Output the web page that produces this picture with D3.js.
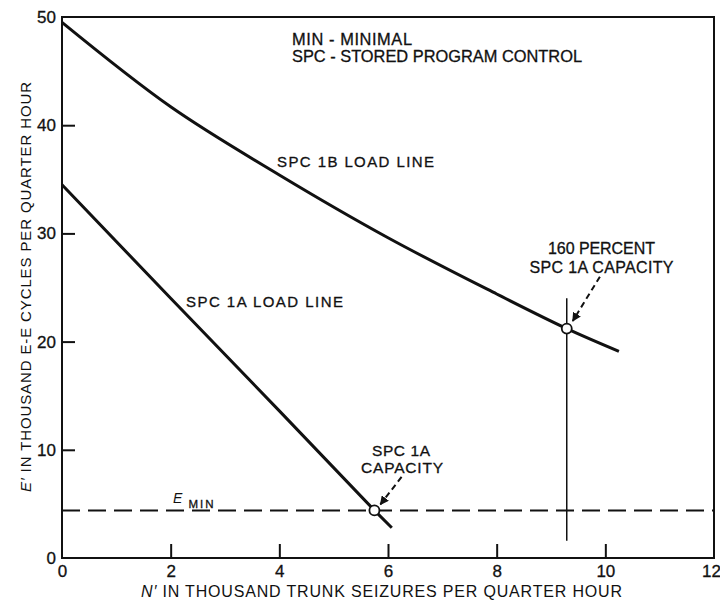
<!DOCTYPE html>
<html>
<head>
<meta charset="utf-8">
<script src="https://cdn.jsdelivr.net/npm/d3@7"></script>
<style>
  body { margin: 0; background: #fff; }
  svg { display: block; }
  text { font-family: "Liberation Sans", Arial, Helvetica, sans-serif; fill: #111; }
  .heavy { stroke: #111; stroke-width: 0.3; }
</style>
</head>
<body>
<svg id="chart" width="720" height="601"></svg>
<script>
// ---- data ----
const xTicks = [0, 2, 4, 6, 8, 10, 12];
const yTicks = [0, 10, 20, 30, 40, 50];

// SPC 1B load line: [N' thousand seizures, E' thousand cycles]
const spc1bN = [0, 2, 4, 6, 8, 9.29, 10.25];
const spc1bE = [49.5, 41.7, 35.4, 29.6, 24.4, 21.2, 19.1];

// SPC 1A load line
const spc1aN = [0, 2, 4, 5.75, 6.07];
const spc1aE = [34.5, 24.0, 13.6, 4.4, 2.8];

// E_MIN level
const eMin = 4.4;

// capacity points (open circles)
const capN = [5.75, 9.29];
const capE = [4.4, 21.2];

// vertical marker at 160 percent capacity
const vLineN = 9.29;
const vLineE = [1.6, 24.0];

// annotation arrows: [fromN, fromE, toN, toE]
const arrows = [
  [9.90, 26.0, 9.40, 21.9],
  [6.25, 7.5, 5.86, 4.95]
];

// ---- layout ----
const svg = d3.select("#chart");
const x = d3.scaleLinear().domain([0, 12]).range([62, 714]);
const y = d3.scaleLinear().domain([0, 50]).range([558, 17]);

// defs: arrowhead
svg.append("defs").append("marker")
  .attr("id", "ah").attr("viewBox", "0 0 10 10")
  .attr("refX", 9).attr("refY", 5)
  .attr("markerWidth", 9).attr("markerHeight", 9)
  .attr("markerUnits", "userSpaceOnUse")
  .attr("orient", "auto")
  .append("path").attr("d", "M0,0 L10,5 L0,10 Z").attr("fill", "#111");

// frame
svg.append("rect")
  .attr("x", x(0)).attr("y", y(50))
  .attr("width", x(12) - x(0)).attr("height", y(0) - y(50))
  .attr("fill", "none").attr("stroke", "#111").attr("stroke-width", 2);

// axes with inward ticks
const xAxis = d3.axisBottom(x).tickValues(xTicks).tickSize(-14).tickPadding(7)
  .tickFormat(d3.format("d"));
const gx = svg.append("g").attr("transform", `translate(0,${y(0)})`).call(xAxis);
gx.select(".domain").remove();
gx.selectAll(".tick line").attr("stroke", "#111").attr("stroke-width", 2)
  .filter(d => d === 0 || d === 12).remove();
gx.selectAll(".tick text").attr("font-size", 17).attr("fill", "#111")
  .attr("class", "heavy")
  .style("font-family", "'Liberation Sans', Arial, sans-serif");
gx.selectAll(".tick text").filter(d => d === 12).attr("dx", -3);

const yAxis = d3.axisLeft(y).tickValues(yTicks).tickSize(-13).tickPadding(6)
  .tickFormat(d3.format("d"));
const gy = svg.append("g").attr("transform", `translate(${x(0)},0)`).call(yAxis);
gy.select(".domain").remove();
gy.selectAll(".tick line").attr("stroke", "#111").attr("stroke-width", 2)
  .filter(d => d === 0 || d === 50).remove();
gy.selectAll(".tick text").attr("font-size", 17).attr("fill", "#111")
  .attr("class", "heavy")
  .style("font-family", "'Liberation Sans', Arial, sans-serif");

// E_MIN dashed line
svg.append("line")
  .attr("x1", x(0)).attr("x2", x(12))
  .attr("y1", y(eMin)).attr("y2", y(eMin))
  .attr("stroke", "#111").attr("stroke-width", 2)
  .attr("stroke-dasharray", "18,8");

// vertical marker
svg.append("line")
  .attr("x1", x(vLineN)).attr("x2", x(vLineN))
  .attr("y1", y(vLineE[0])).attr("y2", y(vLineE[1]))
  .attr("stroke", "#111").attr("stroke-width", 1.5);

// load lines
const line1b = d3.line().x(d => x(d[0])).y(d => y(d[1])).curve(d3.curveCatmullRom.alpha(0.5));
const line1a = d3.line().x(d => x(d[0])).y(d => y(d[1]));
svg.append("path").datum(d3.zip(spc1bN, spc1bE)).attr("d", line1b)
  .attr("fill", "none").attr("stroke", "#111").attr("stroke-width", 3);
svg.append("path").datum(d3.zip(spc1aN, spc1aE)).attr("d", line1a)
  .attr("fill", "none").attr("stroke", "#111").attr("stroke-width", 3)
  .attr("stroke-linejoin", "round");

// arrows
svg.selectAll(".arr").data(arrows).enter().append("line")
  .attr("x1", d => x(d[0])).attr("y1", d => y(d[1]))
  .attr("x2", d => x(d[2])).attr("y2", d => y(d[3]))
  .attr("stroke", "#111").attr("stroke-width", 2)
  .attr("stroke-dasharray", "6,4")
  .attr("marker-end", "url(#ah)");

// circles
svg.selectAll(".cap").data(d3.zip(capN, capE)).enter().append("circle")
  .attr("cx", d => x(d[0])).attr("cy", d => y(d[1])).attr("r", 5)
  .attr("fill", "#fff").attr("stroke", "#111").attr("stroke-width", 1.8);

// text helper
function label(txt, px, py, size, len, anchor) {
  const t = svg.append("text").attr("x", px).attr("y", py)
    .attr("class", "heavy")
    .attr("font-size", size).attr("text-anchor", anchor || "start").text(txt);
  if (len) t.attr("textLength", len).attr("lengthAdjust", "spacing");
  return t;
}

label("MIN - MINIMAL", 292, 45, 16.4, 120);
label("SPC - STORED PROGRAM CONTROL", 292, 62, 16.4, 290);
label("SPC 1B LOAD LINE", 277, 167, 15, 157);
label("SPC 1A LOAD LINE", 186, 307, 15, 157);
label("160 PERCENT", 601.5, 254, 16, 107, "middle");
label("SPC 1A CAPACITY", 601.5, 272.5, 16, 144, "middle");
label("SPC 1A", 401, 456, 15.5, 58, "middle");
label("CAPACITY", 402, 473, 15.5, 82, "middle");

// E_MIN label
svg.append("text").attr("x", 173).attr("y", 503).attr("font-size", 14)
  .attr("font-style", "italic").text("E");
label("MIN", 188.5, 507.5, 11.5, 25);

// axis titles
const xt = svg.append("text").attr("x", 381.5).attr("y", 597)
  .attr("font-size", 16).attr("text-anchor", "middle")
  .attr("textLength", 481).attr("lengthAdjust", "spacing");
xt.append("tspan").attr("font-style", "italic").text("N\u2032");
xt.append("tspan").text(" IN THOUSAND TRUNK SEIZURES PER QUARTER HOUR");

const yt = svg.append("text")
  .attr("transform", "translate(31,287) rotate(-90)")
  .attr("font-size", 15).attr("text-anchor", "middle")
  .attr("textLength", 410).attr("lengthAdjust", "spacing");
yt.append("tspan").attr("font-style", "italic").text("E\u2032");
yt.append("tspan").text(" IN THOUSAND E-E CYCLES PER QUARTER HOUR");
</script>
</body>
</html>
